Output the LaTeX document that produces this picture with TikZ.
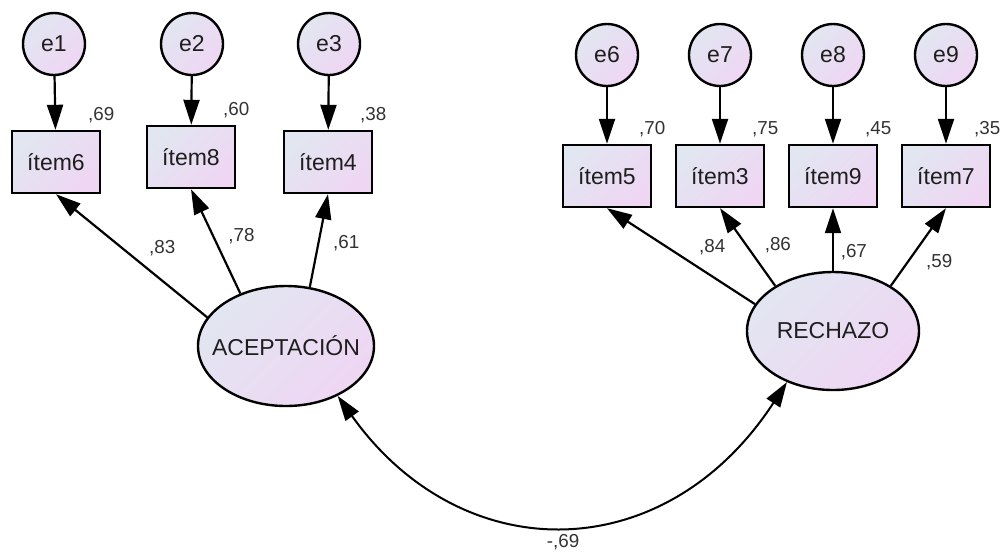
\documentclass[tikz,border=0pt]{standalone}
\usepackage{fontspec}
\setmainfont{Liberation Sans}
\usetikzlibrary{shapes.geometric,arrows.meta}

\definecolor{semleft}{RGB}{226,230,241}
\definecolor{semright}{RGB}{239,214,243}
\definecolor{semtext}{RGB}{30,30,30}
\definecolor{semlab}{RGB}{50,50,50}

\tikzset{
  semfill/.style={left color=semleft,right color=semright,shading angle=45},
  bigtext/.style={font=\fontsize{11.5}{13}\selectfont,text=semtext},
  smalltext/.style={font=\fontsize{9.4}{11}\selectfont,text=semlab}
}

\begin{document}
\begin{tikzpicture}[x=0.5pt,y=-0.5pt,line width=1.1pt,
    >={Triangle[length=12.5pt,width=8pt]}]

        \useasboundingbox (0,0) rectangle (1002,553);

        % error terms
        \begin{scope}[every node/.style={circle,draw,semfill,bigtext,
            minimum size=31pt,inner sep=0pt,line width=1.2pt}]
          \node (e1) at (54,44)  {e1};
          \node (e2) at (192,44) {e2};
          \node (e3) at (329,44) {e3};
          \node (e6) at (607,55) {e6};
          \node (e7) at (720,55) {e7};
          \node (e8) at (833,55) {e8};
          \node (e9) at (946,55) {e9};
        \end{scope}

        % observed items
        \begin{scope}[every node/.style={rectangle,draw,semfill,bigtext,
            minimum width=44pt,minimum height=31pt,inner sep=0pt,line width=1.2pt}]
          \node (i6) at (56,162)  {ítem6};
          \node (i8) at (191,157) {ítem8};
          \node (i4) at (328,162) {ítem4};
          \node (i5) at (607,176) {ítem5};
          \node (i3) at (720,176) {ítem3};
          \node (i9) at (833,176) {ítem9};
          \node (i7) at (946,176) {ítem7};
        \end{scope}

        % factors
        \begin{scope}[every node/.style={ellipse,draw,semfill,bigtext,
            inner sep=0pt,line width=1.2pt}]
          \node[minimum width=88pt,minimum height=60pt] (ac) at (286,346)
            {\makebox[0pt]{ACEPTACIÓN}};
          \node[minimum width=86pt,minimum height=59pt] (re) at (833,331)
            {\makebox[0pt]{RECHAZO}};
        \end{scope}

        \begin{scope}[every node/.style={smalltext}]

          \begin{scope}[every edge/.style={draw,->}]
            \path (e1) edge (i6);
            \path (e2) edge (i8);
            \path (e3) edge (i4);
            \path (e6) edge (i5);
            \path (e7) edge (i3);
            \path (e8) edge (i9);
            \path (e9) edge (i7);
            \path (ac.160) edge node[pos=.435,anchor=south west] {,83} (i6.south);
            \path (ac.131) edge node[pos=.4,anchor=south west] {,78} (i8.south);
            \path (ac.68)  edge node[pos=.64,anchor=north west,xshift=2pt] {,61} (i4.south);
            \path (re.161) edge node[pos=.43,anchor=south west] {,84} (i5.south);
            \path (re.142) edge node[pos=.33,anchor=south west] {,86} (i3.south);
            \path (re.90)  edge node[pos=.54,anchor=north west] {,67} (i9.south);
            \path (re.38)  edge node[pos=.5,anchor=north west] {,59} (i7.south);
          \end{scope}

          % squared multiple correlations
          \node (r6) at ([yshift=7.5pt]i6.north east) {,69};
          \node (r8) at ([yshift=7.5pt]i8.north east) {,60};
          \node (r4) at ([yshift=7.5pt]i4.north east) {,38};
          \node (r5) at ([yshift=7.5pt]i5.north east) {,70};
          \node (r3) at ([yshift=7.5pt]i3.north east) {,75};
          \node (r9) at ([yshift=7.5pt]i9.north east) {,45};
          \node (r7) at ([yshift=7.5pt,xshift=-2pt]i7.north east) {,35};

          % factor correlation
          \draw[<->,line width=1pt] (ac.-44) .. controls +(124,174) and +(-122,187) .. (re.-132)
            node[pos=.5,below,yshift=-1pt] (cr) {-,69};
        \end{scope}

      \end{tikzpicture}
\end{document}
